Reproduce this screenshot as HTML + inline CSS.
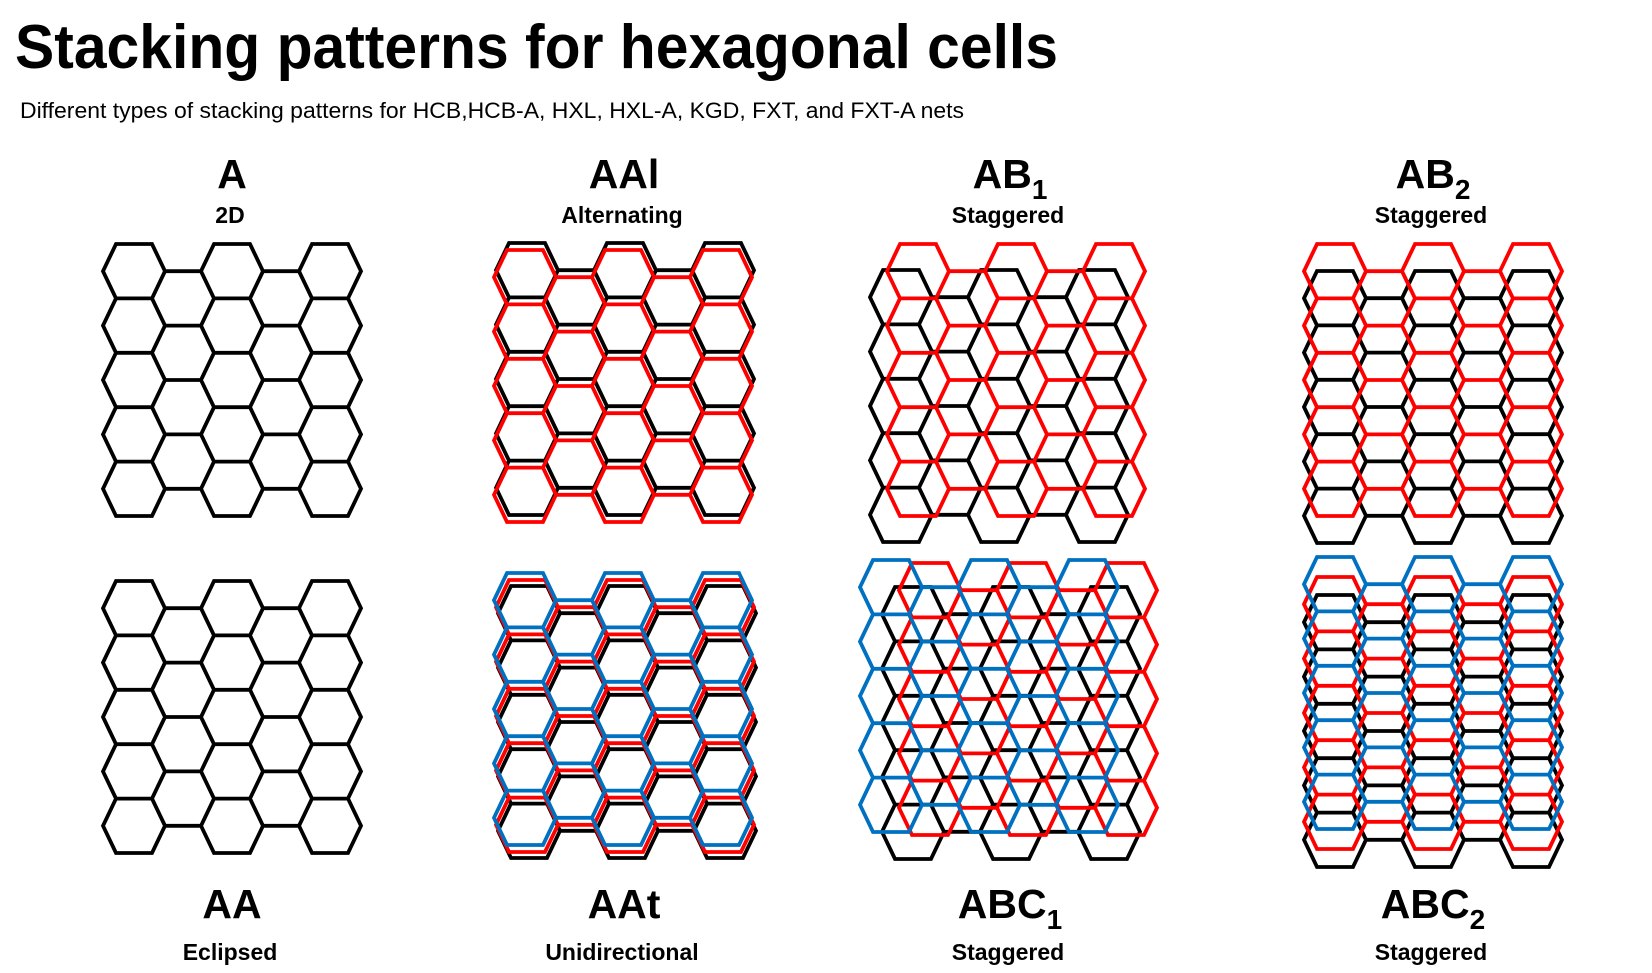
<!DOCTYPE html>
<html><head><meta charset="utf-8"><style>
html,body{margin:0;padding:0;background:#fff;}
svg{display:block;}
</style></head><body>
<svg id="chart" width="1652" height="973" viewBox="0 0 1652 973" xmlns="http://www.w3.org/2000/svg" font-family="'Liberation Sans', sans-serif">
<text x="15" y="68" font-size="62" font-weight="bold" textLength="1043" lengthAdjust="spacingAndGlyphs">Stacking patterns for hexagonal cells</text>
<text x="20" y="118" font-size="22" textLength="944" lengthAdjust="spacingAndGlyphs">Different types of stacking patterns for HCB,HCB-A, HXL, HXL-A, KGD, FXT, and FXT-A nets</text>
<g id="panels"></g>
</svg>
<script>
// Panel metadata
const panelNames = ['A','AAl','AB1','AB2','AA','AAt','ABC1','ABC2'];
const panelSubtitles = ['2D','Alternating','Staggered','Staggered','Eclipsed','Unidirectional','Staggered','Staggered'];
// Layer offsets (lattice origin) per panel: [x, y, color]
const layersA   = [[103,244,'#000']];
const layersAAl = [[496,243,'#000'],[494,250,'#ff0000']];
const layersAB1 = [[870,270,'#000'],[887,244,'#ff0000']];
const layersAB2 = [[1304,271,'#000'],[1304,244,'#ff0000']];
const layersAA  = [[103,581,'#000']];
const layersAAt = [[498,586,'#000'],[496,580,'#ff0000'],[494,573,'#0070c0']];
const layersABC1= [[882,587,'#000'],[899,563,'#ff0000'],[860,560,'#0070c0']];
const layersABC2= [[1304,595,'#000'],[1304,577,'#ff0000'],[1304,557,'#0070c0']];
const panelLayers = [layersA,layersAAl,layersAB1,layersAB2,layersAA,layersAAt,layersABC1,layersABC2];

const NS='http://www.w3.org/2000/svg';
const A=13, F=36, H=54.4, PITCH=49;
const g=document.getElementById('panels');
function hexPath(x,y){
  return `M${x},${y+H/2}L${x+A},${y}L${x+A+F},${y}L${x+2*A+F},${y+H/2}L${x+A+F},${y+H}L${x+A},${y+H}Z`;
}
function drawLattice(parent,x0,y0,color){
  let d='';
  for(let c=0;c<5;c++){
    const n=c%2===0?5:4;
    const yo=c%2===0?0:H/2;
    for(let r=0;r<n;r++) d+=hexPath(x0+c*PITCH,y0+yo+r*H);
  }
  const p=document.createElementNS(NS,'path');
  
  
  p.setAttribute('d',d);p.setAttribute('fill','none');p.setAttribute('stroke',color);
  p.setAttribute('stroke-width','3.8');p.setAttribute('stroke-linejoin','miter');
  parent.appendChild(p);
}
const centers=[232,624,1010,1433];
function label(i){
  const name=panelNames[i], sub=panelSubtitles[i];
  const top=i<4;
  const cx=centers[i%4];
  const yMain=top?188:918, ySub=top?223:960;
  const t=document.createElementNS(NS,'text');
  
  
  t.setAttribute('x',cx);t.setAttribute('y',yMain);t.setAttribute('text-anchor','middle');
  t.setAttribute('font-size','41');t.setAttribute('font-weight','bold');
  const m=name.match(/^([A-Za-z]+)(\d?)$/);
  const s1=document.createElementNS(NS,'tspan');s1.textContent=m[1];t.appendChild(s1);
  if(m[2]){const s2=document.createElementNS(NS,'tspan');s2.textContent=m[2];
    s2.setAttribute('font-size','28');s2.setAttribute('dy','11');t.appendChild(s2);}
  g.appendChild(t);
  const u=document.createElementNS(NS,'text');
  
  
  u.setAttribute('x',cx-2);u.setAttribute('y',ySub);u.setAttribute('text-anchor','middle');
  u.setAttribute('font-size','23');u.setAttribute('font-weight','bold');
  u.textContent=sub;g.appendChild(u);
}
panelLayers.forEach((layers,i)=>{
  const pg=document.createElementNS(NS,'g');
  
  
  g.appendChild(pg);
  layers.forEach(l=>drawLattice(pg,l[0],l[1],l[2]));
  label(i);
});
</script>
</body></html>
